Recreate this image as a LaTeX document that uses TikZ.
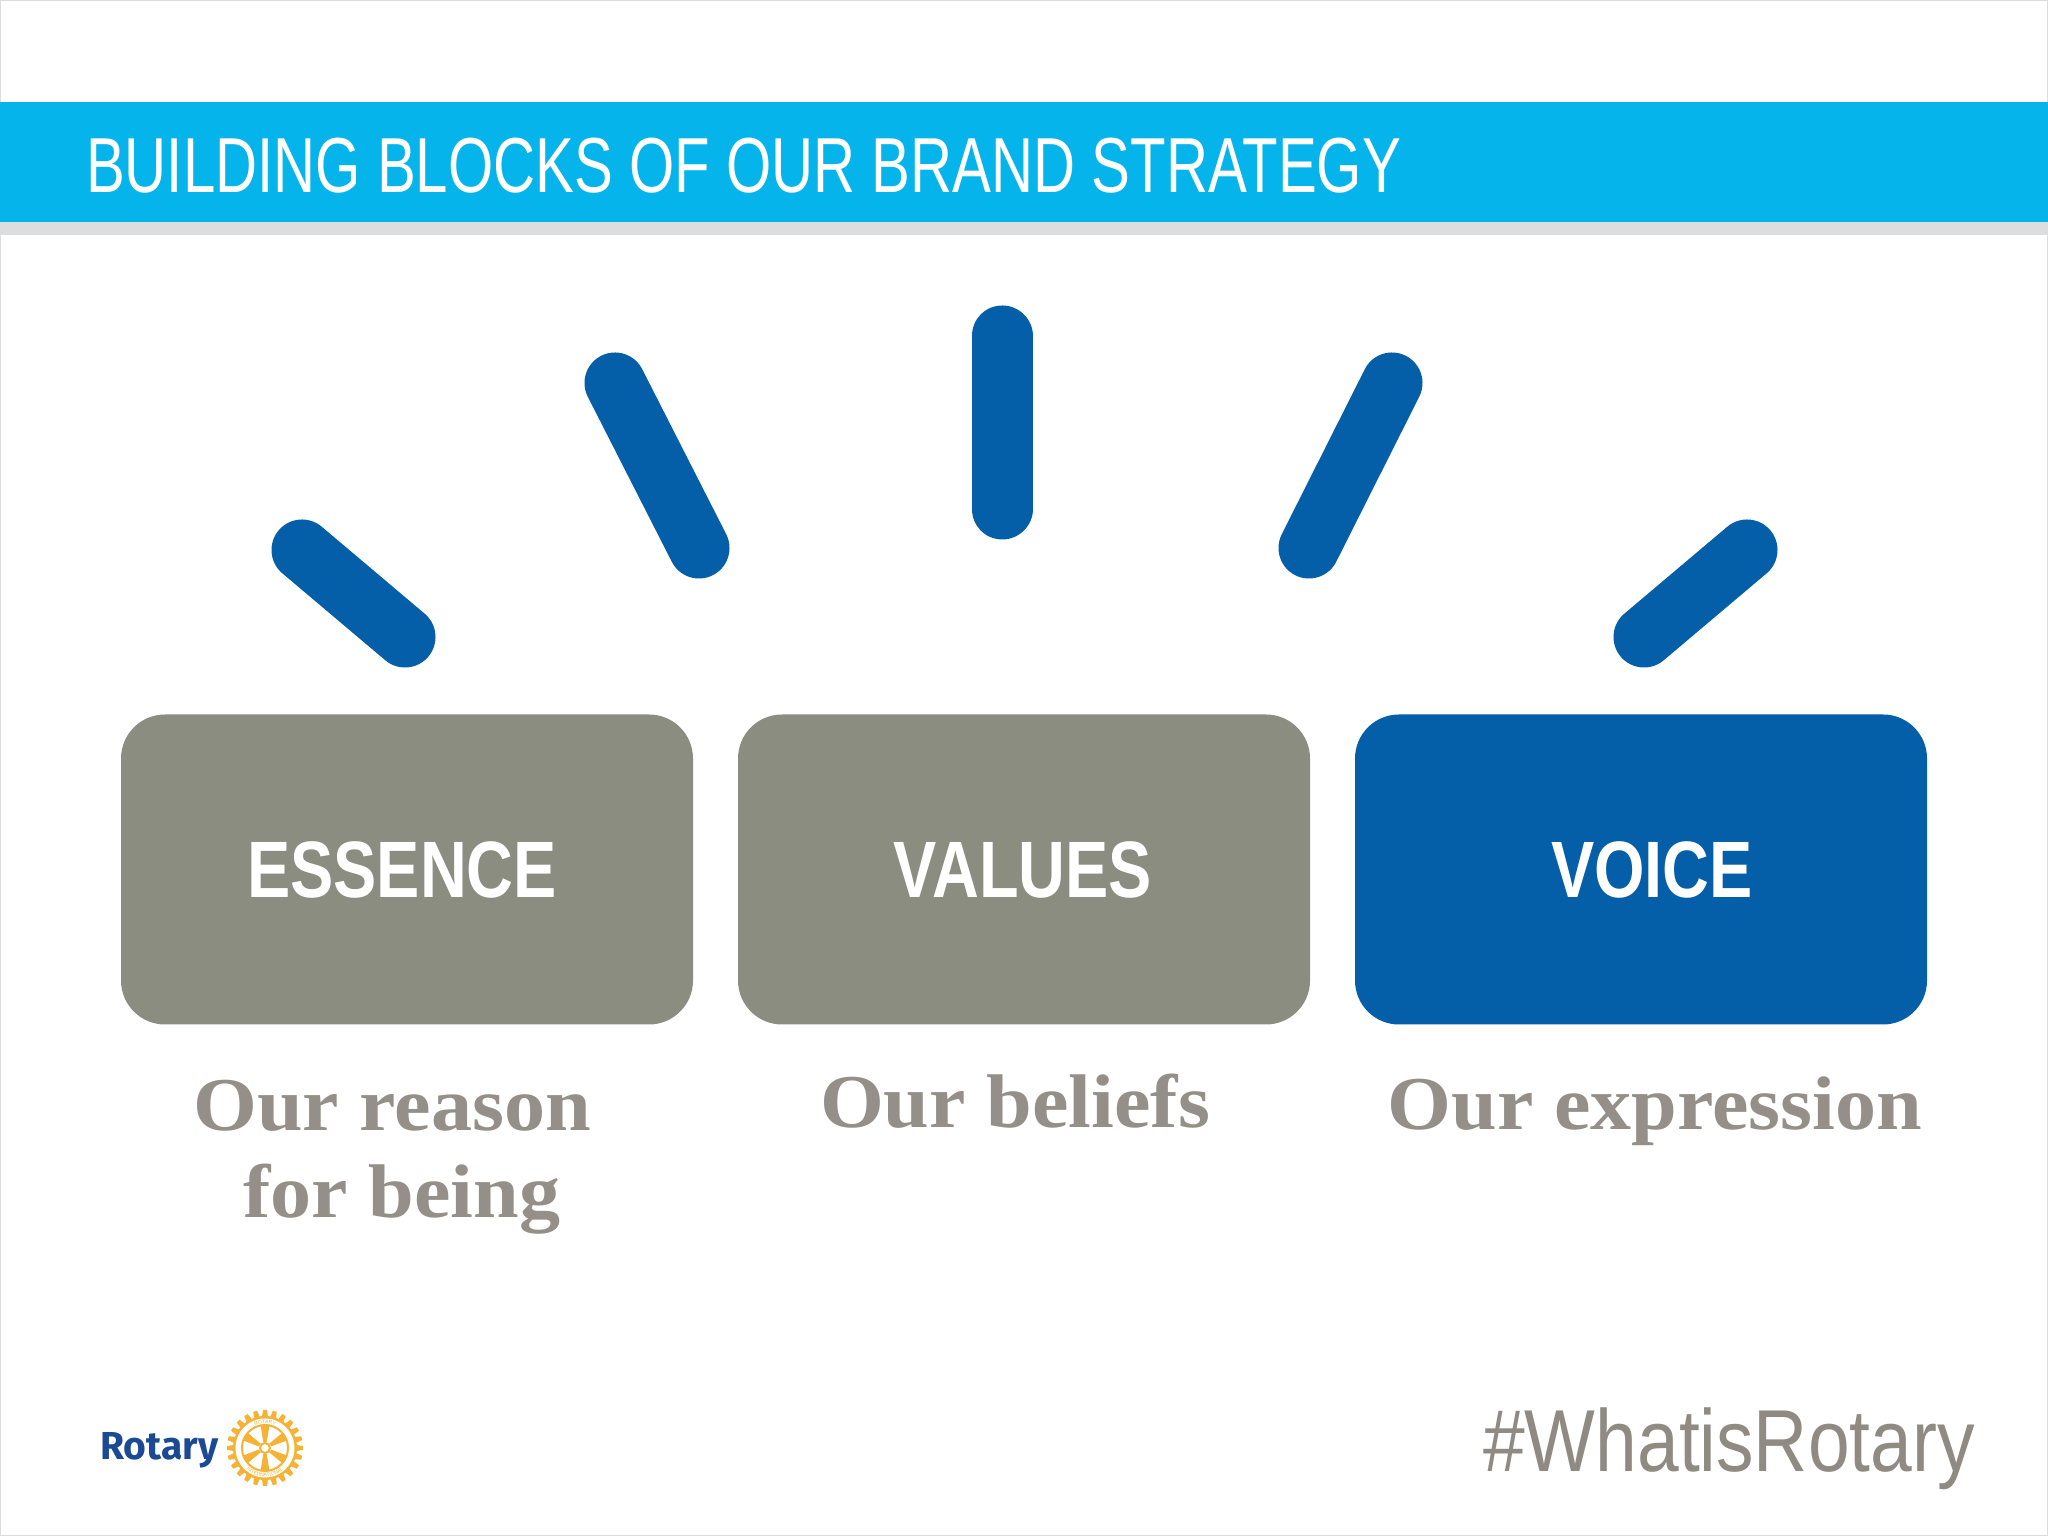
\documentclass[tikz,border=0pt]{standalone}
\usepackage{fontspec}
\usepackage{xcolor}
\setmainfont{Liberation Sans}
\newfontfamily\serifface{Liberation Serif}
\newfontfamily\logoface{Fira Sans}
\usetikzlibrary{decorations.text,positioning}
\definecolor{barblue}{HTML}{05B4EA}
\definecolor{bargrey}{HTML}{DCDDDF}
\definecolor{blockgrey}{HTML}{8C8D81}
\definecolor{rayblue}{HTML}{045EA8}
\definecolor{captiongrey}{HTML}{948F88}
\definecolor{hashgrey}{HTML}{8F8B83}
\definecolor{wheelgold}{HTML}{F5B335}
\definecolor{logoblue}{HTML}{1B4A94}
\tikzset{
	ray/.style={line width=61pt,line cap=round,draw=rayblue},
	blockbox/.style={minimum width=572pt,minimum height=310pt,rounded corners=44pt,inner sep=0pt},
	blocklabel/.style={text=white,anchor=center,inner sep=0pt,font=\fontsize{80}{80}\selectfont\bfseries,xscale=0.81},
	caption/.style={text=captiongrey,anchor=base,inner sep=0pt,xscale=1.08,font=\fontsize{76}{76}\selectfont\serifface\bfseries}
}
\begin{document}
\begin{tikzpicture}[x=1pt,y=1pt]
		\useasboundingbox (0,0) rectangle (2048,1536);
		\fill[white] (0,0) rectangle (2048,1536);
		\draw[bargrey,line width=2pt] (0,0) rectangle (2048,1536);
		
		\fill[bargrey] (0,1301) rectangle (2048,1314);
		\fill[barblue] (0,1314) rectangle (2048,1434);
		\node[text=white,anchor=base west,inner sep=0pt,xscale=0.746,font=\fontsize{78}{78}\selectfont] (title) at (86,1343) {BUILDING BLOCKS OF OUR BRAND STRATEGY};
		
		\coordinate (rayaa) at (302,986);
		\coordinate (rayab) at (405,899);
		\coordinate (rayba) at (615,1153);
		\coordinate (raybb) at (699,988);
		\coordinate (rayca) at (1002,1200);
		\coordinate (raycb) at (1002,1027);
		\coordinate (rayda) at (1392,1153);
		\coordinate (raydb) at (1309,988);
		\coordinate (rayea) at (1747,986);
		\coordinate (rayeb) at (1644,899);
		\foreach \a/\b in {rayaa/rayab,rayba/raybb,rayca/raycb,rayda/raydb,rayea/rayeb}
			\draw[ray] (\a) -- (\b);
		
		\node[blockbox,fill=blockgrey] (essence) at (407,666.5) {};
		\node[blockbox,fill=blockgrey] (values) at (1024,666.5) {};
		\node[blockbox,fill=rayblue] (voice) at (1641,666.5) {};
		\node[blocklabel] (essencelabel) at (402,666) {ESSENCE};
		\node[blocklabel] (valueslabel) at (1023,666) {VALUES};
		\node[blocklabel] (voicelabel) at (1652,666) {VOICE};
		
		\node[caption] (reason) at (392,405) {Our reason};
		\node[caption] (being) at (402,318) {for being};
		\node[caption] (beliefs) at (1015,408) {Our beliefs};
		\node[caption] (expression) at (1655,406) {Our expression};
		
		\node[text=hashgrey,anchor=base east,inner sep=0pt,xscale=0.852,font=\fontsize{88}{88}\selectfont] (hashtag) at (1975,64) {\#WhatisRotary};
		
		\node[text=logoblue,anchor=base west,inner sep=0pt,font=\fontsize{39}{39}\selectfont\logoface\bfseries] (rotary) at (100,76) {Rotary};
		\coordinate (wheel) at (265,88);
		\foreach \t in {0,15,...,345}
			\fill[wheelgold,rotate around={\t:(wheel)}] ([xshift=-3.2pt,yshift=30pt]wheel) -- ([xshift=-2pt,yshift=38pt]wheel) -- ([xshift=2pt,yshift=38pt]wheel) -- ([xshift=3.2pt,yshift=30pt]wheel) -- cycle;
		\fill[wheelgold] (wheel) circle (32pt);
		\fill[white] (wheel) circle (29.5pt);
		\draw[wheelgold,line width=2pt] (wheel) circle (23pt);
		\foreach \t in {30,90,...,330}
			\fill[wheelgold,rotate around={\t:(wheel)}] ([xshift=5pt,yshift=-1.5pt]wheel) -- ([xshift=23pt,yshift=-4.5pt]wheel) -- ([xshift=23pt,yshift=4.5pt]wheel) -- ([xshift=5pt,yshift=1.5pt]wheel) -- cycle;
		\fill[white] (wheel) circle (6pt);
		\draw[wheelgold,line width=2pt] (wheel) circle (5pt);
		\path[decorate,decoration={text along path,text align=center,text={|\fontsize{5}{5}\selectfont\color{wheelgold}|ROTARY}}] ([shift={(150:24.6pt)}]wheel) arc (150:30:24.6pt);
		\path[decorate,decoration={text along path,text align=center,text={|\fontsize{5}{5}\selectfont\color{wheelgold}|INTERNATIONAL}}] ([shift={(205:28.6pt)}]wheel) arc (205:335:28.6pt);
		\end{tikzpicture}
\end{document}
